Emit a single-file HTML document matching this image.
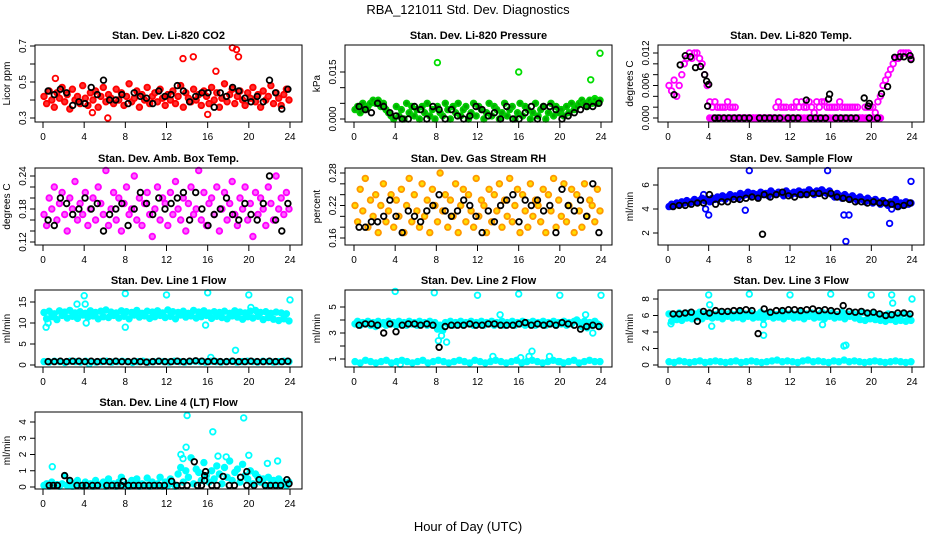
<!DOCTYPE html>
<html><head><meta charset="utf-8">
<style>
html,body{margin:0;padding:0;background:#fff;}
svg{display:block;font-family:"Liberation Sans",sans-serif;}
</style></head>
<body>
<svg id="chart" width="936" height="540" xmlns="http://www.w3.org/2000/svg">
<text x="468" y="14" font-size="13" text-anchor="middle">RBA_121011  Std. Dev. Diagnostics</text>
<text x="468" y="531" font-size="13" text-anchor="middle">Hour of Day (UTC)</text>
</svg>
<script>
// ---- data ----
const co2Red=[0.42,0.38,0.45,0.40,0.36,0.44,0.41,0.47,0.39,0.43,0.35,0.46,0.40,0.42,0.38,0.48,0.41,0.37,0.44,0.40,0.45,0.36,0.42,0.47,0.39,0.43,0.41,0.38,0.46,0.40,0.44,0.37,0.42,0.49,0.39,0.41,0.45,0.36,0.43,0.40,0.47,0.38,0.42,0.44,0.39,0.46,0.41,0.37,0.43,0.40,0.45,0.38,0.42,0.48,0.36,0.44,0.41,0.39,0.46,0.40,0.43,0.37,0.45,0.42,0.38,0.47,0.40,0.44,0.36,0.41,0.49,0.39,0.43,0.46,0.38,0.42,0.45,0.40,0.37,0.44,0.41,0.47,0.39,0.43,0.36,0.45,0.40,0.42,0.48,0.38,0.44,0.41,0.37,0.43,0.46,0.40];
const co2RedOutX=[13.6,14.6,18.4,18.8,19.0,16.8,6.3,4.8,16.0,1.2];
const co2RedOutY=[0.63,0.64,0.69,0.68,0.64,0.56,0.30,0.33,0.32,0.52];
const co2Black=[0.45,0.43,0.46,0.44,0.37,0.39,0.38,0.47,0.43,0.51,0.40,0.40,0.43,0.38,0.44,0.42,0.41,0.38,0.45,0.42,0.43,0.48,0.45,0.39,0.42,0.44,0.44,0.36,0.44,0.42,0.47,0.45,0.41,0.39,0.42,0.39,0.51,0.44,0.35,0.46];

const presGreen=[0.003,0.004,0.002,0.005,0.003,0.004,0.005,0.006,0.005,0.006,0.004,0.005,0.003,0.002,0.001,0.000,
0.004,0.001,0.003,0.000,0.005,0.002,0.004,0.001,0.003,0.000,0.004,0.002,0.005,0.001,0.003,0.000,0.004,0.002,0.001,0.005,0.003,0.000,0.004,0.002,0.005,0.001,0.003,0.004,0.000,0.002,0.005,0.001,0.004,0.003,0.000,0.002,0.005,0.001,0.004,0.003,0.000,0.002,0.005,0.001,0.003,0.004,0.000,0.002,0.005,0.001,0.004,0.003,0.000,0.002,0.005,0.001,0.003,0.004,0.000,0.002,0.005,0.001,0.004,0.002,
0.003,0.001,0.004,0.002,0.005,0.003,0.004,0.005,0.006,0.005,0.004,0.006,0.005,0.006,0.005,0.006];
const presGreenOutX=[8.1,16.0,23.0,23.9,23.4];
const presGreenOutY=[0.018,0.015,0.0125,0.021,0.0065];
const presBlack=[0.004,0.003,0.002,0.005,0.004,0.002,0.001,0.000,0.000,0.004,0.003,0.000,0.004,0.003,0.000,0.003,0.001,0.000,0.001,0.004,0.003,0.001,0.002,0.000,0.004,0.000,0.000,0.002,0.004,0.000,0.004,0.004,0.003,0.000,0.001,0.002,0.003,0.004,0.004,0.005];

const tempMag=[0.006,0.005,0.007,0.004,0.006,0.008,0.010,0.011,0.012,0.011,0.012,0.012,0.011,0.010,0.008,0.006,
0.003,0.002,0.003,0.002,0.002,0.002,0.002,0.003,0.002,0.002,0.002,0.000,0.000,0.000,0.000,0.000,
0.000,0.000,0.000,0.000,0.000,0.000,0.000,0.000,0.000,0.000,0.002,0.003,0.002,0.002,0.002,0.000,
0.002,0.002,0.003,0.002,0.003,0.002,0.002,0.003,0.002,0.001,0.003,0.002,0.003,0.003,0.002,0.002,
0.002,0.002,0.002,0.003,0.002,0.002,0.002,0.002,0.002,0.002,0.002,0.000,0.000,0.002,0.002,0.002,
0.002,0.001,0.003,0.004,0.006,0.007,0.008,0.009,0.010,0.011,0.011,0.012,0.012,0.012,0.012,0.011];
const tempMagZero=[0,0,0,0,0,0,0,0,0,0,0,0,0,0,0,0,0,0,0,0,0,0,0,0,0,0,0,0,0,0,0,0,0,0,0,0,0,0,0,0,0,0,0,0,0,0,0,0];
const tempBlackX=[0.6,1.2,1.7,2.2,2.7,3.2,3.6,3.8,4.0,3.9,15.9,15.8,13.6,19.3,19.8,19.7,21.0,21.6,22.3,22.8,23.2,23.8,23.9,4.6,5.0,5.5,6.0,6.5,7.0,7.5,8.0,9.0,9.5,10.0,10.5,11.0,11.8,12.3,12.8,14.0,14.5,15.0,15.5,16.5,17.0,17.5,18.0,18.5,19.8,20.6];
const tempBlackY=[0.0043,0.0098,0.0115,0.0113,0.0093,0.0095,0.0080,0.0068,0.0062,0.0022,0.0044,0.0035,0.0033,0.0037,0.0027,0.0022,0.0045,0.0058,0.0112,0.0113,0.0113,0.0115,0.0108,0,0,0,0,0,0,0,0,0,0,0,0,0,0,0,0,0,0,0,0,0,0,0,0,0,0,0];

const ambMag=[0.17,0.15,0.20,0.18,0.22,0.16,0.19,0.21,0.17,0.14,0.20,0.18,0.23,0.16,0.19,0.17,0.21,0.15,0.18,0.20,0.16,0.22,0.19,0.17,0.25,0.15,0.18,0.21,0.16,0.20,0.14,0.19,0.22,0.17,0.18,0.24,0.16,0.20,0.15,0.19,0.21,0.17,0.13,0.18,0.22,0.16,0.20,0.19,0.15,0.21,0.17,0.23,0.18,0.16,0.20,0.14,0.19,0.22,0.17,0.18,0.25,0.16,0.21,0.15,0.19,0.20,0.17,0.22,0.14,0.18,0.21,0.16,0.19,0.23,0.17,0.15,0.20,0.18,0.22,0.16,0.19,0.13,0.21,0.17,0.20,0.18,0.15,0.22,0.19,0.16,0.24,0.18,0.20,0.17,0.21,0.18];
const ambBlack=[0.16,0.15,0.20,0.19,0.17,0.18,0.20,0.18,0.19,0.14,0.17,0.18,0.19,0.15,0.18,0.21,0.19,0.17,0.20,0.18,0.19,0.20,0.21,0.16,0.21,0.18,0.15,0.17,0.18,0.20,0.17,0.16,0.19,0.17,0.16,0.19,0.24,0.16,0.14,0.19];

const rhOrange=[0.22,0.19,0.25,0.21,0.27,0.18,0.23,0.20,0.24,0.17,0.22,0.26,0.19,0.21,0.24,0.18,0.23,0.20,0.25,0.17,0.22,0.27,0.19,0.24,0.21,0.18,0.26,0.20,0.23,0.17,0.25,0.22,0.19,0.28,0.21,0.24,0.18,0.23,0.20,0.26,0.17,0.22,0.25,0.19,0.24,0.21,0.18,0.27,0.20,0.23,0.22,0.17,0.25,0.19,0.24,0.21,0.26,0.18,0.23,0.20,0.27,0.19,0.22,0.25,0.17,0.24,0.21,0.18,0.26,0.20,0.23,0.22,0.19,0.25,0.17,0.24,0.21,0.27,0.18,0.23,0.20,0.26,0.19,0.22,0.25,0.17,0.24,0.21,0.18,0.26,0.20,0.23,0.22,0.19,0.25,0.21];
const rhBlack=[0.18,0.18,0.19,0.19,0.20,0.23,0.20,0.17,0.21,0.20,0.19,0.21,0.22,0.24,0.21,0.20,0.21,0.23,0.22,0.20,0.17,0.21,0.19,0.22,0.23,0.24,0.19,0.23,0.22,0.23,0.21,0.22,0.17,0.25,0.22,0.21,0.23,0.20,0.26,0.17];

const flowBlue=[4.2,4.4,4.3,4.5,4.4,4.6,4.5,4.7,4.5,4.6,4.8,4.6,4.7,4.9,4.7,4.8,
4.6,4.9,4.8,5.0,4.9,5.1,4.8,5.0,5.2,5.0,5.1,4.9,5.3,5.1,5.2,5.4,
5.1,5.3,5.2,5.0,5.4,5.2,5.3,5.1,5.5,5.3,5.2,5.4,5.3,5.1,5.5,5.3,
5.2,5.4,5.3,5.5,5.2,5.4,5.3,5.6,5.4,5.2,5.5,5.3,5.6,5.4,5.3,5.5,
5.2,5.0,5.3,5.1,4.9,5.2,5.0,4.8,5.1,4.9,4.7,5.0,4.8,4.6,4.9,4.7,
4.5,4.8,4.6,4.4,4.7,4.5,4.3,4.6,4.4,4.8,4.2,4.5,4.3,4.6,4.4,4.5];
const flowBlueOutX=[3.5,4.0,3.7,8.0,15.7,17.3,17.8,17.5,21.8,23.9,7.6,22.0];
const flowBlueOutY=[5.2,3.5,4.0,7.2,7.2,3.5,3.5,1.3,2.8,6.3,3.9,4.0];
const flowBlack=[4.2,4.3,4.3,4.4,4.5,4.5,5.2,4.4,4.6,4.6,4.8,4.8,4.9,5.0,4.9,5.2,5.0,5.2,5.4,5.1,5.0,5.2,5.2,5.3,5.3,5.1,5.3,5.0,4.9,4.8,4.6,4.6,4.5,4.6,4.5,4.5,4.4,4.2,4.3,4.5];
const flowBlackOutX=[9.3];
const flowBlackOutY=[1.9];

const l1Upper=[12.5,11.0,12.8,11.5,12.2,10.8,12.9,11.8,12.6,11.2,13.0,11.6,12.4,11.1,12.7,11.9,12.3,11.4,12.9,11.7,12.5,11.0,12.8,11.5,13.1,11.3,12.6,11.8,12.4,11.2,12.9,11.6,12.7,11.0,12.5,11.9,13.0,11.4,12.3,11.7,12.8,11.1,12.6,11.5,12.9,11.8,12.4,11.3,13.1,11.6,12.7,11.0,12.5,11.9,12.8,11.4,12.3,11.7,13.0,11.2,12.6,11.5,12.9,11.8,12.4,11.1,12.7,11.6,12.5,11.3,12.8,11.0,12.3,11.7,12.9,11.4,12.6,10.9,12.4,11.5,12.8,11.2,13.0,11.6,12.5,10.8,12.7,11.3,12.3,10.9,12.6,10.6,12.4,11.0,12.2,10.5];
const l1Lower=[0.8,0.7,0.9,0.8,0.6,0.9,0.8,0.7,0.9,0.8,0.7,0.8,0.9,0.7,0.8,0.9,0.8,0.6,0.8,0.9,0.7,0.8,0.9,0.8,0.7,0.9,0.8,0.7,0.8,0.9,0.8,0.7,0.9,0.8,0.7,0.8,0.9,0.7,0.8,0.9,0.8,0.7,0.9,0.8,0.7,0.8,0.9,0.8];
const l1OutX=[0.3,0.5,3.3,4.0,4.1,4.2,8.0,8.0,12.0,15.8,16.0,18.7,16.3,20.0,20.2,24.0,4.5];
const l1OutY=[9.0,10.0,14.5,16.5,14.5,10.0,17.0,9.0,16.7,9.5,17.2,3.5,1.8,16.7,13.7,15.5,0.3];
const l1Black=[0.8,0.8,0.9,0.8,0.9,0.9,0.8,0.9,0.8,0.9,0.8,0.9,0.8,0.8,0.9,0.8,0.7,0.8,0.9,0.8,0.8,0.9,0.8,0.9,1.0,0.9,0.8,0.9,0.8,0.8,0.9,0.8,0.8,0.9,0.8,0.8,0.9,0.8,0.8,0.9];

const l2Upper=[3.7,3.9,3.6,3.8,3.7,3.9,3.6,3.8,3.5,3.9,3.7,3.8,3.6,3.9,3.7,3.8,3.6,3.9,3.7,3.8,3.6,3.9,3.7,3.8,3.6,3.9,3.7,3.8,3.6,3.9,3.7,3.8,3.3,3.6,3.2,3.8,3.7,3.9,3.6,3.8,3.7,3.9,3.6,3.8,3.7,3.9,3.6,3.8,3.7,3.9,3.6,3.8,3.7,3.9,3.6,3.8,3.7,3.9,3.6,3.8,3.7,3.9,3.6,3.8,3.7,3.9,3.6,3.8,3.7,3.9,3.6,3.8,3.7,3.9,3.6,3.8,3.7,3.9,3.6,3.8,3.7,3.9,3.6,3.8,3.7,3.9,4.0,3.8,3.5,3.9,3.4,3.8,3.6,3.9,3.7,3.6];
const l2Lower=[0.8,0.7,0.9,0.8,0.7,0.8,0.9,0.7,0.8,0.9,0.8,0.7,0.8,0.9,0.7,0.8,0.9,0.8,0.7,0.8,0.9,0.8,0.7,0.9,0.8,0.7,0.8,0.9,0.8,0.7,0.8,0.9,0.7,0.8,0.9,0.8,0.7,0.8,0.9,0.8,0.7,0.8,0.9,0.7,0.8,0.9,0.8,0.8];
const l2OutX=[4.0,7.8,12.0,16.0,20.0,24.0,8.2,9.0,8.5,14.2,22.5,23.2,13.5,16.2,17.3,17.0,19.0,4.5,20.0];
const l2OutY=[6.2,6.1,5.9,6.0,5.9,5.9,2.4,2.3,2.8,4.4,4.4,3.0,1.2,1.1,1.6,1.2,1.2,0.6,0.8];
const l2Black=[3.6,3.7,3.7,3.6,3.0,3.7,3.1,3.6,3.7,3.7,3.6,3.7,3.6,1.9,3.5,3.6,3.6,3.6,3.7,3.6,3.6,3.7,3.7,3.6,3.6,3.6,3.7,3.8,3.6,3.7,3.6,3.7,3.6,3.8,3.7,3.6,3.3,3.5,3.6,3.5];

const l3Upper=[6.2,5.3,6.0,5.5,6.3,5.4,6.1,5.7,6.3,5.6,6.2,5.8,6.4,5.6,6.2,5.9,6.3,5.7,6.1,5.8,6.4,5.6,6.2,5.9,6.3,5.7,6.1,5.8,6.4,5.6,6.2,5.9,6.3,5.7,6.1,5.8,6.4,5.6,6.2,5.9,6.3,5.7,6.1,5.8,6.4,5.6,6.2,5.9,6.3,5.7,6.1,5.8,6.4,5.6,6.2,5.9,6.3,5.7,6.1,5.8,6.4,5.6,6.2,5.9,6.3,5.7,6.1,5.8,6.4,5.6,6.2,5.9,6.3,5.7,6.1,5.5,6.4,5.4,6.2,5.6,6.3,5.5,6.1,5.4,6.0,5.3,6.2,5.5,6.1,5.3,6.0,5.4,6.2,5.3,6.0,5.4];
const l3Lower=[0.4,0.3,0.5,0.4,0.3,0.4,0.5,0.3,0.4,0.5,0.4,0.3,0.4,0.5,0.3,0.4,0.5,0.4,0.3,0.4,0.5,0.6,0.4,0.5,0.4,0.3,0.5,0.6,0.4,0.5,0.4,0.3,0.5,0.4,0.6,0.4,0.5,0.4,0.3,0.4,0.5,0.4,0.3,0.4,0.5,0.4,0.3,0.4];
const l3OutX=[4.0,8.0,12.0,16.0,20.0,22.0,24.0,4.1,4.3,9.4,9.4,17.5,17.3,22.1,15.2,0.3];
const l3OutY=[8.5,8.6,8.5,8.6,8.5,8.5,8.0,7.3,4.7,4.9,3.6,2.4,2.3,7.5,4.9,5.0];
const l3Black=[6.2,6.2,6.3,6.4,5.3,6.5,6.3,6.6,6.5,6.5,6.6,6.6,6.7,6.6,3.8,6.8,6.4,6.6,6.6,6.7,6.7,6.6,6.7,6.8,6.6,6.7,6.6,6.5,7.2,6.5,6.4,6.5,6.3,6.4,6.2,6.0,6.1,6.3,6.3,6.2];

const l4Cyan=[0.1,0.2,0.05,0.3,0.1,0.15,0.05,0.2,0.7,0.1,0.3,0.05,0.2,0.4,0.1,0.05,0.3,0.1,0.2,0.05,0.4,0.1,0.15,0.3,0.05,0.5,0.1,0.2,0.05,0.3,0.6,0.1,0.2,0.05,0.4,0.1,0.5,0.05,0.2,0.1,0.55,0.05,0.3,0.1,0.2,0.6,0.05,0.3,0.1,0.5,0.2,0.05,
0.8,1.2,0.3,1.0,0.6,1.8,0.2,1.1,0.9,0.4,1.5,0.7,0.3,1.0,0.5,1.3,0.8,0.2,1.2,0.6,1.6,0.4,0.9,1.1,0.3,1.4,0.7,0.5,1.0,0.2,0.8,0.6,
0.3,0.5,0.1,0.6,0.2,0.4,0.1,0.5,0.2,0.3,0.1,0.3];
const l4OutX=[0.9,14.0,19.5,16.5,13.9,13.4,20.0,17.0,22.8,21.8,13.6,17.8];
const l4OutY=[1.25,4.4,4.25,3.4,2.45,2.0,1.95,1.9,1.6,1.45,1.75,1.85];
const l4BlackX=[0.6,1.0,1.4,3.3,3.8,4.2,4.8,5.3,6.2,6.7,7.2,7.6,8.3,8.8,9.3,9.8,10.3,10.8,11.3,11.8,13.0,13.5,14.0,15.0,15.4,16.4,16.9,18.1,18.6,19.8,20.5,21.6,22.1,22.6,23.1,23.9,2.1,2.6,7.8,12.5,14.7,15.8,15.7,15.7,17.5,19.2,19.8,21.0,23.7];
const l4BlackY=[0.1,0.1,0.1,0.1,0.1,0.1,0.1,0.1,0.1,0.1,0.1,0.1,0.1,0.1,0.1,0.1,0.1,0.1,0.1,0.1,0.1,0.1,0.1,0.1,0.1,0.1,0.1,0.1,0.1,0.1,0.1,0.1,0.1,0.1,0.1,0.2,0.7,0.4,0.35,0.35,1.55,0.95,0.7,0.4,0.65,0.6,0.95,0.45,0.45];

// ---- layout ----
const svg=document.getElementById('chart');
const NS='http://www.w3.org/2000/svg';
const COLS=[{l:35,r:302,x0:43,x24:290},{l:345,r:612,x0:354,x24:601},{l:658,r:924,x0:668,x24:912}];
const ROWS=[{t:45,b:122},{t:168,b:245},{t:290,b:367},{t:412,b:489}];
function spread(n,a,b){const o=[];for(let i=0;i<n;i++)o.push(a+(b-a)*i/(n-1));return o;}
function mk(tag,attrs,parent){const e=document.createElementNS(NS,tag);for(const k in attrs)e.setAttribute(k,attrs[k]);(parent||svg).appendChild(e);return e;}

function panel(cfg){
  const C=COLS[cfg.col],R=ROWS[cfg.row];
  const g=mk('g',{});
  
  
  const xs=h=>C.x0+(C.x24-C.x0)*h/24;
  const ys=v=>cfg.p0+(cfg.p1-cfg.p0)*(v-cfg.v0)/(cfg.v1-cfg.v0);
  cfg.series.forEach(s=>{
    const sg=mk('g',{fill:'none',stroke:s.color,'stroke-width':1.8},sg0=g);
    
    
    for(let i=0;i<s.y.length;i++){
      const c=mk('circle',{cx:xs(s.x[i]).toFixed(1),cy:ys(s.y[i]).toFixed(1),r:2.8},sg);
      if(s.fill)c.setAttribute('fill',s.fill);
    }
  });
  const box=mk('rect',{x:C.l,y:R.t,width:C.r-C.l,height:R.b-R.t,fill:'none',stroke:'#000','stroke-width':1},g);
  
  
  const t=mk('text',{x:(C.l+C.r)/2,y:R.t-6,'font-size':11,'font-weight':'bold','text-anchor':'middle'},g);
  t.textContent=cfg.title;
  
  
  const xa=mk('g',{stroke:'#000','stroke-width':1},g);
  
  
  mk('line',{x1:C.x0,x2:C.x24,y1:R.b,y2:R.b},xa);
  [0,4,8,12,16,20,24].forEach(h=>{
    mk('line',{x1:xs(h),x2:xs(h),y1:R.b,y2:R.b+6},xa);
    const lt=mk('text',{x:xs(h),y:R.b+18,'font-size':10,'text-anchor':'middle',stroke:'none'},xa);
    lt.textContent=h;
  });
  const ya=mk('g',{stroke:'#000','stroke-width':1},g);
  
  
  const ty=cfg.ticks.map(ys);
  mk('line',{x1:C.l,x2:C.l,y1:Math.min(...ty),y2:Math.max(...ty)},ya);
  cfg.ticks.forEach((v,i)=>{
    const y=ys(v);
    mk('line',{x1:C.l-5,x2:C.l,y1:y,y2:y},ya);
    const lab=cfg.labels[i];
    if(lab!==''){
      const lt=mk('text',{x:C.l-9,y:y,'font-size':10,'text-anchor':'middle',stroke:'none',transform:`rotate(-90 ${C.l-9} ${y})`},ya);
      lt.textContent=lab;
    }
  });
  const yl=mk('text',{x:C.l-25,y:(R.t+R.b)/2,'font-size':10,'text-anchor':'middle',transform:`rotate(-90 ${C.l-25} ${(R.t+R.b)/2})`},g);
  yl.textContent=cfg.ylab;
  
  
}
let sg0;
const EV=(arr)=>spread(arr.length,0.1,23.9);
const BK=(arr)=>spread(arr.length,0.5,23.8);

panel({name:'panel-co2',col:0,row:0,title:'Stan. Dev. Li-820 CO2',ylab:'Licor ppm',v0:0.3,v1:0.7,p0:118,p1:46,
  ticks:[0.3,0.4,0.5,0.6,0.7],labels:['0.3','','0.5','','0.7'],
  series:[{name:'co2-red',color:'#ff0000',fill:'#ff3030',x:EV(co2Red),y:co2Red},{name:'co2-red-outliers',color:'#ff0000',x:co2RedOutX,y:co2RedOutY},{name:'co2-black',color:'#000',x:BK(co2Black),y:co2Black}]});
panel({name:'panel-pressure',col:1,row:0,title:'Stan. Dev. Li-820 Pressure',ylab:'kPa',v0:0,v1:0.015,p0:119,p1:72,
  ticks:[0,0.005,0.01,0.015],labels:['0.000','','','0.015'],
  series:[{name:'pressure-green',color:'#00cc00',fill:'#00aa00',x:EV(presGreen),y:presGreen},{name:'pressure-green-outliers',color:'#00dd00',x:presGreenOutX,y:presGreenOutY},{name:'pressure-black',color:'#000',x:BK(presBlack),y:presBlack}]});
panel({name:'panel-temp',col:2,row:0,title:'Stan. Dev. Li-820 Temp.',ylab:'degrees C',v0:0,v1:0.012,p0:118,p1:53,
  ticks:[0,0.002,0.004,0.006,0.008,0.01,0.012],labels:['0.000','','','0.006','','','0.012'],
  series:[{name:'temp-magenta',color:'#ff00ff',x:EV(tempMag),y:tempMag},{name:'temp-magenta-zero',color:'#ff00ff',fill:'#ff00ff',x:spread(tempMagZero.length,4.1,20.9),y:tempMagZero},{name:'temp-black',color:'#000',x:tempBlackX,y:tempBlackY}]});
panel({name:'panel-amb-temp',col:0,row:1,title:'Stan. Dev. Amb. Box Temp.',ylab:'degrees C',v0:0.12,v1:0.24,p0:242,p1:176,
  ticks:[0.12,0.14,0.16,0.18,0.2,0.22,0.24],labels:['0.12','','','0.18','','','0.24'],
  series:[{name:'amb-magenta',color:'#ff00ff',fill:'#ff66ff',x:EV(ambMag),y:ambMag},{name:'amb-black',color:'#000',x:BK(ambBlack),y:ambBlack}]});
panel({name:'panel-rh',col:1,row:1,title:'Stan. Dev. Gas Stream RH',ylab:'percent',v0:0.16,v1:0.28,p0:238,p1:173,
  ticks:[0.16,0.18,0.2,0.22,0.24,0.26,0.28],labels:['0.16','','','0.22','','','0.28'],
  series:[{name:'rh-orange',color:'#ff9900',fill:'#ffdd00',x:EV(rhOrange),y:rhOrange},{name:'rh-black',color:'#000',x:BK(rhBlack),y:rhBlack}]});
panel({name:'panel-sample-flow',col:2,row:1,title:'Stan. Dev. Sample Flow',ylab:'ml/min',v0:2,v1:6,p0:233,p1:185,
  ticks:[2,4,6],labels:['2','4','6'],
  series:[{name:'flow-blue',color:'#0000ff',fill:'#0000ff',x:EV(flowBlue),y:flowBlue},{name:'flow-blue-outliers',color:'#0000ff',x:flowBlueOutX,y:flowBlueOutY},{name:'flow-black',color:'#000',x:BK(flowBlack),y:flowBlack},{name:'flow-black-outliers',color:'#000',x:flowBlackOutX,y:flowBlackOutY}]});
panel({name:'panel-line1',col:0,row:2,title:'Stan. Dev. Line 1 Flow',ylab:'ml/min',v0:0,v1:15,p0:365,p1:302,
  ticks:[0,5,10,15],labels:['0','5','10','15'],
  series:[{name:'line1-upper',color:'#00ffff',fill:'#00ffff',x:EV(l1Upper),y:l1Upper},{name:'line1-lower',color:'#00ffff',fill:'#00ffff',x:EV(l1Lower),y:l1Lower},{name:'line1-outliers',color:'#00ffff',x:l1OutX,y:l1OutY},{name:'line1-black',color:'#000',x:BK(l1Black),y:l1Black}]});
panel({name:'panel-line2',col:1,row:2,title:'Stan. Dev. Line 2 Flow',ylab:'ml/min',v0:1,v1:5,p0:359,p1:307,
  ticks:[1,2,3,4,5],labels:['1','','3','','5'],
  series:[{name:'line2-upper',color:'#00ffff',fill:'#00ffff',x:EV(l2Upper),y:l2Upper},{name:'line2-lower',color:'#00ffff',fill:'#00ffff',x:EV(l2Lower),y:l2Lower},{name:'line2-outliers',color:'#00ffff',x:l2OutX,y:l2OutY},{name:'line2-black',color:'#000',x:BK(l2Black),y:l2Black}]});
panel({name:'panel-line3',col:2,row:2,title:'Stan. Dev. Line 3 Flow',ylab:'ml/min',v0:0,v1:8,p0:365,p1:299,
  ticks:[0,2,4,6,8],labels:['0','2','4','6','8'],
  series:[{name:'line3-upper',color:'#00ffff',fill:'#00ffff',x:EV(l3Upper),y:l3Upper},{name:'line3-lower',color:'#00ffff',fill:'#00ffff',x:EV(l3Lower),y:l3Lower},{name:'line3-outliers',color:'#00ffff',x:l3OutX,y:l3OutY},{name:'line3-black',color:'#000',x:BK(l3Black),y:l3Black}]});
panel({name:'panel-line4',col:0,row:3,title:'Stan. Dev. Line 4 (LT) Flow',ylab:'ml/min',v0:0,v1:4,p0:487,p1:422,
  ticks:[0,1,2,3,4],labels:['0','1','2','3','4'],
  series:[{name:'line4-cyan',color:'#00ffff',fill:'#00ffff',x:EV(l4Cyan),y:l4Cyan},{name:'line4-outliers',color:'#00ffff',x:l4OutX,y:l4OutY},{name:'line4-black',color:'#000',x:l4BlackX,y:l4BlackY}]});
</script>
</body></html>
